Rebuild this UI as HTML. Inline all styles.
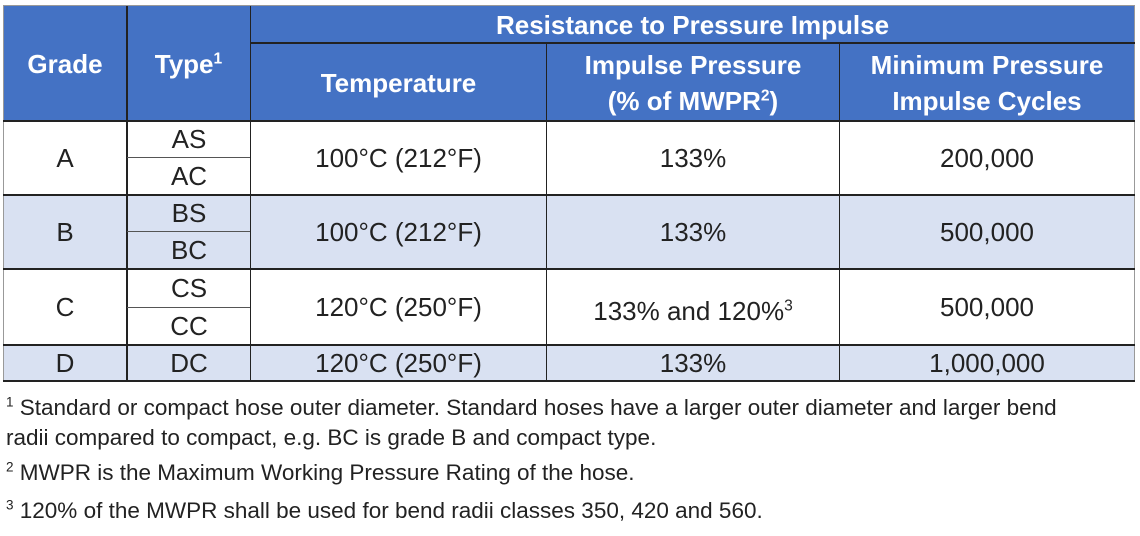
<!DOCTYPE html>
<html><head><meta charset="utf-8"><style>
body{margin:0;width:1140px;height:536px;background:#fff;position:relative;overflow:hidden;font-family:"Liberation Sans",Arial,sans-serif;}
.c{position:absolute;display:flex;align-items:center;justify-content:center;text-align:center;box-sizing:border-box;}
.h{background:#4472C4;color:#fff;font-weight:bold;font-size:26px;line-height:36px;}
.b{font-size:26px;color:#222;}
.l{position:absolute;background:#222;}
.f{position:absolute;left:6px;font-size:22.5px;color:#222;white-space:nowrap;}
sup{font-size:60%;line-height:0;}
</style></head><body>
<div style="position:absolute;left:3px;top:5px;width:1132px;height:377px;border:1px solid #999;box-sizing:border-box"></div>
<div class="c h" style="left:4px;top:6px;width:122px;height:115px"><span>Grade</span></div>
<div class="c h" style="left:127px;top:6px;width:123px;height:115px"><span>Type<sup>1</sup></span></div>
<div class="c h" style="left:251px;top:6px;width:883px;height:37px"><span>Resistance to Pressure Impulse</span></div>
<div class="c h" style="left:251px;top:44px;width:295px;height:77px"><span>Temperature</span></div>
<div class="c h" style="left:547px;top:44px;width:292px;height:77px"><span>Impulse Pressure<br>(% of MWPR<sup>2</sup>)</span></div>
<div class="c h" style="left:840px;top:44px;width:294px;height:77px"><span>Minimum Pressure<br>Impulse Cycles</span></div>

<div style="position:absolute;left:4px;top:195px;width:1130px;height:74px;background:#D9E1F2"></div>
<div style="position:absolute;left:4px;top:345px;width:1130px;height:36px;background:#D9E1F2"></div>

<div class="l" style="left:126px;top:6px;width:2px;height:376px"></div>
<div class="l" style="left:250px;top:6px;width:1px;height:376px"></div>
<div class="l" style="left:546px;top:43px;width:1px;height:339px"></div>
<div class="l" style="left:839px;top:43px;width:1px;height:339px"></div>
<div class="l" style="left:250px;top:42px;width:885px;height:2px"></div>
<div class="l" style="left:3px;top:120px;width:1132px;height:2px"></div>
<div class="l" style="left:3px;top:194px;width:1132px;height:2px"></div>
<div class="l" style="left:3px;top:268px;width:1132px;height:2px"></div>
<div class="l" style="left:3px;top:344px;width:1132px;height:2px"></div>
<div class="l" style="left:3px;top:380px;width:1132px;height:2px"></div>
<div class="l" style="left:127px;top:157px;width:123px;height:1px;background:#555"></div>
<div class="l" style="left:127px;top:231px;width:123px;height:1px;background:#555"></div>
<div class="l" style="left:127px;top:307px;width:123px;height:1px;background:#555"></div>

<div class="c b" style="left:4px;top:122px;width:122px;height:72px">A</div>
<div class="c b" style="left:128px;top:122px;width:122px;height:35px">AS</div>
<div class="c b" style="left:128px;top:158px;width:122px;height:36px">AC</div>
<div class="c b" style="left:251px;top:122px;width:295px;height:72px">100°C (212°F)</div>
<div class="c b" style="left:547px;top:122px;width:292px;height:72px">133%</div>
<div class="c b" style="left:840px;top:122px;width:294px;height:72px">200,000</div>

<div class="c b" style="left:4px;top:196px;width:122px;height:72px">B</div>
<div class="c b" style="left:128px;top:196px;width:122px;height:35px">BS</div>
<div class="c b" style="left:128px;top:232px;width:122px;height:36px">BC</div>
<div class="c b" style="left:251px;top:196px;width:295px;height:72px">100°C (212°F)</div>
<div class="c b" style="left:547px;top:196px;width:292px;height:72px">133%</div>
<div class="c b" style="left:840px;top:196px;width:294px;height:72px">500,000</div>

<div class="c b" style="left:4px;top:270px;width:122px;height:74px">C</div>
<div class="c b" style="left:128px;top:270px;width:122px;height:37px">CS</div>
<div class="c b" style="left:128px;top:308px;width:122px;height:36px">CC</div>
<div class="c b" style="left:251px;top:270px;width:295px;height:74px">120°C (250°F)</div>
<div class="c b" style="left:547px;top:274px;width:292px;height:74px"><span>133% and 120%<sup>3</sup></span></div>
<div class="c b" style="left:840px;top:270px;width:294px;height:74px">500,000</div>

<div class="c b" style="left:4px;top:346px;width:122px;height:34px">D</div>
<div class="c b" style="left:128px;top:346px;width:122px;height:34px">DC</div>
<div class="c b" style="left:251px;top:346px;width:295px;height:34px">120°C (250°F)</div>
<div class="c b" style="left:547px;top:346px;width:292px;height:34px">133%</div>
<div class="c b" style="left:840px;top:346px;width:294px;height:34px">1,000,000</div>

<div class="f" style="top:393px;line-height:30px"><sup>1</sup> Standard or compact hose outer diameter. Standard hoses have a larger outer diameter and larger bend<br>radii compared to compact, e.g. BC is grade B and compact type.</div>
<div class="f" style="top:458px;line-height:30px"><sup>2</sup> MWPR is the Maximum Working Pressure Rating of the hose.</div>
<div class="f" style="top:496px;line-height:30px"><sup>3</sup> 120% of the MWPR shall be used for bend radii classes 350, 420 and 560.</div>
</body></html>
